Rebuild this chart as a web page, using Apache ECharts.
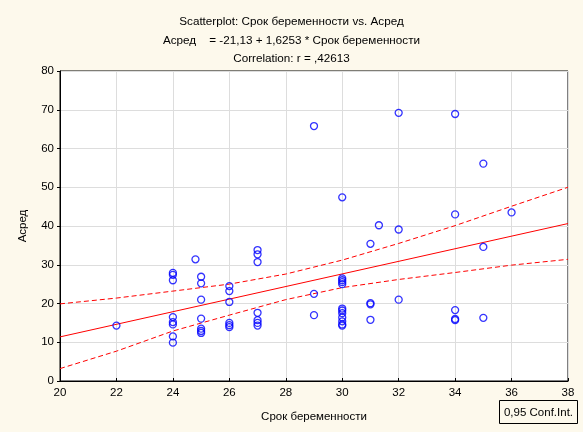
<!DOCTYPE html>
<html><head><meta charset="utf-8">
<script src="https://cdn.jsdelivr.net/npm/echarts@6/dist/echarts.min.js"></script>
<style>html,body{margin:0;padding:0;background:#fdf9ec;}#c{width:583px;height:432px;}</style>
</head><body><div id="c"></div>
<script>
// Scatter data: [Срок беременности, Асред]
const xs = [22,
  24,24,24,24,24,24,24,24,
  24.8,
  25,25,25,25,25,25,25,
  26,26,26,26,26,26,
  27,27,27,27,27,27,27,
  29,29,29,
  30,30,30,30,30,30,30,30,30,30,30,30,
  31,31,31,31,
  31.3,
  32,32,32,
  34,34,34,34,34,
  35,35,35,
  36];
const ys = [14.3,
  27.9,27.4,26.0,16.5,15.2,14.6,11.5,9.9,
  31.4,
  26.9,25.2,21.0,16.1,13.5,12.9,12.4,
  24.5,23.2,20.4,15.0,14.4,13.9,
  33.8,32.7,30.7,17.6,15.7,15.0,14.3,
  65.8,22.5,17.0,
  47.4,26.5,26.0,25.5,25.0,18.7,18.2,17.5,16.4,15.4,14.6,14.3,
  35.4,20.1,19.8,15.8,
  40.2,
  69.2,39.1,21.0,
  68.9,43.0,18.3,16.0,15.7,
  56.1,34.6,16.3,
  43.5];
// Regression line endpoints (Асред = -21,13 + 1,6253 * x)
const fitX = [20, 38];
const fitY = [11.38, 40.63];
// 0,95 confidence band
const bandX = [20, 22, 24, 26, 28, 30, 32, 34, 36, 38];
const bandUpper = [19.9, 21.4, 23.2, 25.0, 27.6, 31.2, 35.5, 40.1, 45.1, 50.0];
const bandLower = [3.2, 7.7, 12.9, 17.0, 21.0, 24.1, 26.2, 28.0, 29.9, 31.4];
const xTicks = [20,22,24,26,28,30,32,34,36,38];
const yTicks = [0,10,20,30,40,50,60,70,80];

const F = 'Liberation Sans, Arial, sans-serif';
const chart = echarts.init(document.getElementById('c'));
const zip = (a, b) => a.map((v, i) => [v, b[i]]);
chart.setOption({
  backgroundColor: '#fdf9ec',
  animation: false,
  title: {
    left: 'center', top: 8,
    text: 'Scatterplot: Срок беременности vs. Асред\nАсред    = -21,13 + 1,6253 * Срок беременности\nCorrelation: r = ,42613',
    textStyle: { fontFamily: F, fontSize: 11.7, fontWeight: 'normal', color: '#000', lineHeight: 18.5 }
  },
  grid: { left: 60, right: 15, top: 71, bottom: 51, show: true, backgroundColor: '#fff', borderColor: '#000', borderWidth: 1 },
  xAxis: {
    type: 'value', min: xTicks[0], max: xTicks[xTicks.length-1], interval: 2,
    name: 'Срок беременности', nameLocation: 'middle', nameGap: 30,
    nameTextStyle: { fontFamily: F, fontSize: 11.5, color: '#000' },
    axisLine: { show: true, lineStyle: { color: '#000', width: 1 } },
    axisTick: { show: true, inside: true, length: 3, lineStyle: { color: '#000' } },
    axisLabel: { fontFamily: F, fontSize: 11.5, color: '#000', margin: 6 },
    splitLine: { show: true, lineStyle: { color: '#dddddd', width: 1 } }
  },
  yAxis: {
    type: 'value', min: yTicks[0], max: yTicks[yTicks.length-1], interval: 10,
    name: 'Асред', nameLocation: 'middle', nameGap: 31, nameRotate: 90,
    nameTextStyle: { fontFamily: F, fontSize: 11.5, color: '#000' },
    axisLine: { show: true, lineStyle: { color: '#000', width: 1 } },
    axisTick: { show: true, inside: false, length: 3, lineStyle: { color: '#000' } },
    axisLabel: { fontFamily: F, fontSize: 11.5, color: '#000', margin: 6 },
    splitLine: { show: true, lineStyle: { color: '#dddddd', width: 1 } }
  },
  series: [
    { type: 'line', data: zip(bandX, bandUpper), symbol: 'none',
      lineStyle: { color: '#ff0000', width: 1, type: [5, 3] }, z: 2 },
    { type: 'line', data: zip(bandX, bandLower), symbol: 'none',
      lineStyle: { color: '#ff0000', width: 1, type: [5, 3] }, z: 2 },
    { type: 'line', data: zip(fitX, fitY), symbol: 'none',
      lineStyle: { color: '#ff0000', width: 1 }, z: 2 },
    { type: 'scatter', data: zip(xs, ys), symbol: 'circle', symbolSize: 7,
      itemStyle: { color: 'rgba(0,0,0,0)', borderColor: '#0000ff', borderWidth: 1.3 }, z: 3 }
  ],
  graphic: [{
    type: 'group', right: 5, bottom: 8,
    children: [
      { type: 'rect', shape: { x: 0, y: 0, width: 78, height: 23 }, style: { fill: '#fdf9ec', stroke: '#000', lineWidth: 1 } },
      { type: 'text', x: 39, y: 12, style: { text: '0,95 Conf.Int.', font: '11.5px ' + F, fill: '#000', align: 'center', verticalAlign: 'middle' } }
    ]
  }]
});
</script></body></html>
